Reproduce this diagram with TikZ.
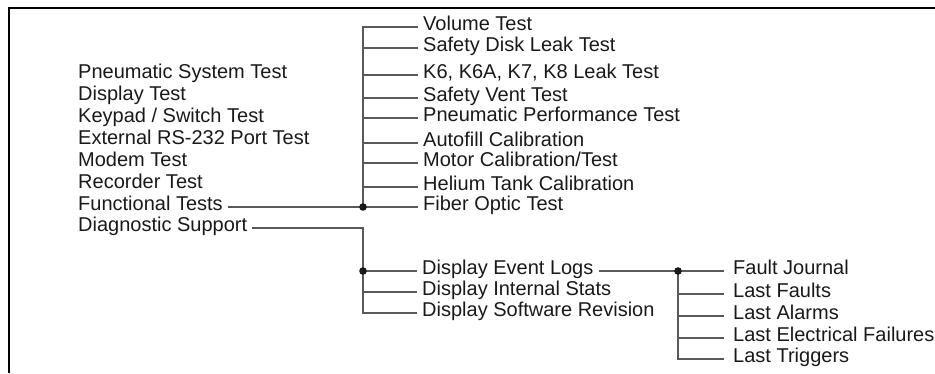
\documentclass[tikz,border=0pt]{standalone}
\usepackage{fontspec}
\setmainfont{Liberation Sans}
\usepackage{tikz}

\begin{document}
\begin{tikzpicture}[x=1pt, y=-1pt,
    item/.style={anchor=west, inner xsep=5pt, inner ysep=0pt, text height=11pt, text depth=5pt,
      font=\fontsize{20}{22}\selectfont, text=black!90},
    leaf/.style={item, inner xsep=9pt},
    link/.style={draw=black!65, line width=1.2pt},
    junction/.style={fill=black!90, radius=3.8pt}]
\useasboundingbox (0,0) rectangle (935,373);

% frame
\draw[line width=2pt] (9,373) -- (9,7.5) -- (935,7.5);

% main menu
\node[item] (pneumatic) at (73,75) {Pneumatic System Test};
\node[item] (display) at (73,97) {Display Test};
\node[item] (keypad) at (73,119) {Keypad / Switch Test};
\node[item] (rs232) at (73,141) {External RS-232 Port Test};
\node[item] (modem) at (73,163) {Modem Test};
\node[item] (recorder) at (73,185) {Recorder Test};
\node[item] (functional) at (73,207) {Functional Tests};
\node[item] (diagnostic) at (73,228) {Diagnostic Support};

% functional tests
\node[item] (volume) at (418,27) {Volume Test};
\node[item] (diskleak) at (418,48) {Safety Disk Leak Test};
\node[item] (leak) at (418,75) {K6, K6A, K7, K8 Leak Test};
\node[item] (vent) at (418,98) {Safety Vent Test};
\node[item] (perf) at (418,118) {Pneumatic Performance Test};
\node[item] (autofill) at (418,143) {Autofill Calibration};
\node[item] (motor) at (418,163) {Motor Calibration/Test};
\node[item] (helium) at (418,187) {Helium Tank Calibration};
\node[item] (fiber) at (418,207) {Fiber Optic Test};

% diagnostic support
\node[item] (eventlogs) at (417,271) {Display Event Logs};
\node[item] (stats) at (417,292) {Display Internal Stats};
\node[item] (swrev) at (417,313) {Display Software Revision};

% event logs
\node[leaf] (journal) at (724,271) {Fault Journal};
\node[leaf] (lastfaults) at (724,294) {Last Faults};
\node[leaf] (alarms) at (724,316) {Last Alarms};
\node[leaf] (electrical) at (724,338) {Last Electrical Failures};
\node[leaf] (triggers) at (724,359) {Last Triggers};

\coordinate (fjunc) at (363,207);
\coordinate (djunc) at (363,271);
\coordinate (ljunc) at (678,271);

\draw[link] (functional.east) -- (fjunc) -- (fiber.west);
\foreach \n in {volume,diskleak,leak,vent,perf,autofill,motor,helium}
  \draw[link] (fjunc) |- (\n.west);

\draw[link] (diagnostic.east) -| (djunc) -- (eventlogs.west);
\draw[link] (djunc) |- (stats.west);
\draw[link] (djunc) |- (swrev.west);

\draw[link] (eventlogs.east) -- (ljunc) -- (journal.west);
\foreach \n in {lastfaults,alarms,electrical,triggers}
  \draw[link] (ljunc) |- (\n.west);

\fill[junction] (fjunc) circle;
\fill[junction] (djunc) circle;
\fill[junction] (ljunc) circle;
\end{tikzpicture}
\end{document}
